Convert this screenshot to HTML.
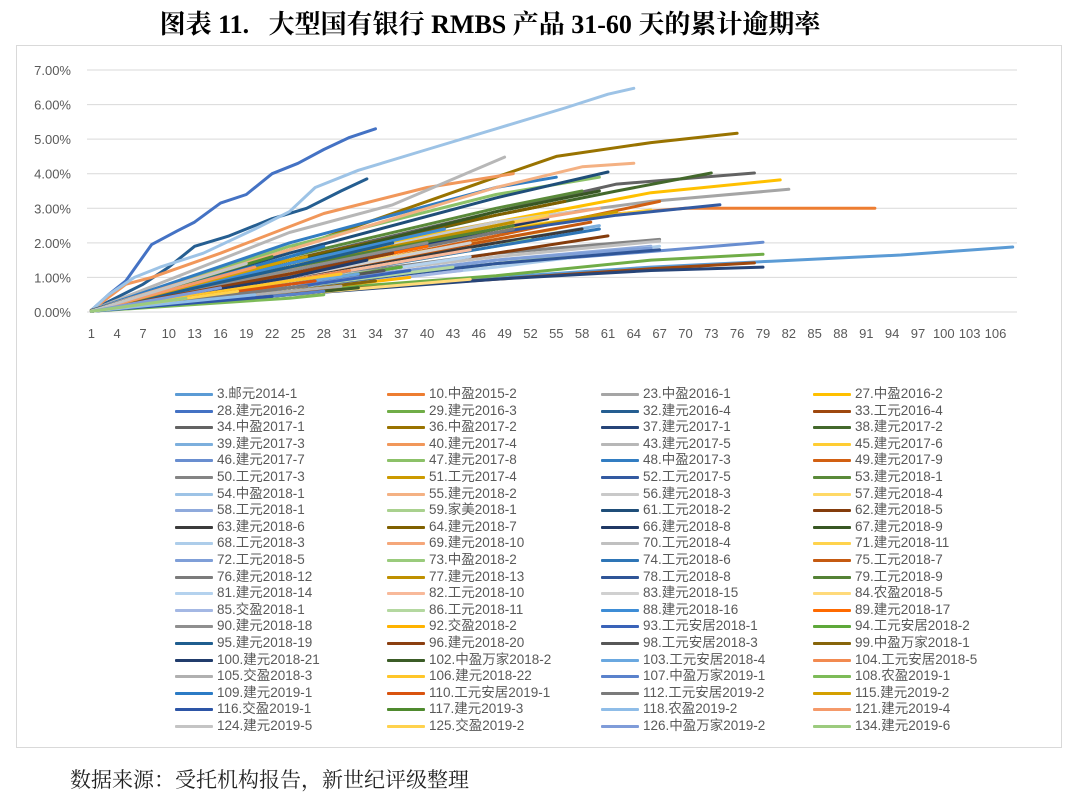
<!DOCTYPE html>
<html><head><meta charset="utf-8">
<style>
body{margin:0;width:1080px;height:803px;background:#fff;position:relative;overflow:hidden;font-family:"Liberation Sans","Noto Sans CJK SC",sans-serif;}
#title{position:absolute;left:0;width:980px;top:4px;text-align:center;font-family:"Liberation Serif","Noto Serif CJK SC",serif;font-weight:bold;font-size:26px;color:#000;}
#frame{position:absolute;left:16px;top:45px;width:1046px;height:703px;border:1px solid #d9d9d9;box-sizing:border-box;}
#source{position:absolute;left:70px;top:764px;font-size:21px;color:#222;font-family:"Liberation Serif","Noto Serif CJK SC",serif;}
.leg{position:absolute;font-size:13.5px;color:#595959;white-space:nowrap;line-height:16px;}
.leg i{position:absolute;left:-42px;top:7px;width:38px;height:3px;border-radius:1px;}
</style></head><body>
<div id="title">图表 11.&nbsp;&nbsp; 大型国有银行 RMBS 产品 31-60 天的累计逾期率</div>
<div id="frame"></div>
<svg id="chart" width="1080" height="803" style="position:absolute;left:0;top:0"></svg>
<div id="legend"></div>
<div id="source">数据来源：受托机构报告，新世纪评级整理</div>
<script>
const yTicks=[0,1,2,3,4,5,6,7];
const yTickLabels=["0.00%","1.00%","2.00%","3.00%","4.00%","5.00%","6.00%","7.00%"];
const nCategories=108;
const seriesNames=["3.邮元2014-1","10.中盈2015-2","23.中盈2016-1","27.中盈2016-2","28.建元2016-2","29.建元2016-3","32.建元2016-4","33.工元2016-4","34.中盈2017-1","36.中盈2017-2","37.建元2017-1","38.建元2017-2","39.建元2017-3","40.建元2017-4","43.建元2017-5","45.建元2017-6","46.建元2017-7","47.建元2017-8","48.中盈2017-3","49.建元2017-9","50.工元2017-3","51.工元2017-4","52.工元2017-5","53.建元2018-1","54.中盈2018-1","55.建元2018-2","56.建元2018-3","57.建元2018-4","58.工元2018-1","59.家美2018-1","61.工元2018-2","62.建元2018-5","63.建元2018-6","64.建元2018-7","66.建元2018-8","67.建元2018-9","68.工元2018-3","69.建元2018-10","70.工元2018-4","71.建元2018-11","72.工元2018-5","73.中盈2018-2","74.工元2018-6","75.工元2018-7","76.建元2018-12","77.建元2018-13","78.工元2018-8","79.工元2018-9","81.建元2018-14","82.工元2018-10","83.建元2018-15","84.农盈2018-5","85.交盈2018-1","86.工元2018-11","88.建元2018-16","89.建元2018-17","90.建元2018-18","92.交盈2018-2","93.工元安居2018-1","94.工元安居2018-2","95.建元2018-19","96.建元2018-20","98.工元安居2018-3","99.中盈万家2018-1","100.建元2018-21","102.中盈万家2018-2","103.工元安居2018-4","104.工元安居2018-5","105.交盈2018-3","106.建元2018-22","107.中盈万家2019-1","108.农盈2019-1","109.建元2019-1","110.工元安居2019-1","112.工元安居2019-2","115.建元2019-2","116.交盈2019-1","117.建元2019-3","118.农盈2019-2","121.建元2019-4","124.建元2019-5","125.交盈2019-2","126.中盈万家2019-2","134.建元2019-6"];
const seriesPoints=[
[[1,0.02],[24,0.55],[48,1.0],[66,1.3],[80,1.47],[95,1.65],[108,1.88]],
[[1,0.05],[24,1.3],[48,2.3],[60,2.8],[70,3.0],[92,3.0]],
[[1,0.05],[24,1.5],[48,2.6],[66,3.2],[82,3.55]],
[[1,0.05],[24,1.4],[48,2.6],[66,3.45],[81,3.82]],
[[1,0.05],[3,0.5],[5,0.9],[8,1.95],[11,2.35],[13,2.6],[16,3.15],[19,3.4],[22,4.0],[25,4.3],[28,4.7],[31,5.05],[34,5.3]],
[[1,0.03],[24,0.6],[48,1.05],[66,1.5],[79,1.67]],
[[1,0.05],[7,0.8],[10,1.3],[13,1.9],[17,2.2],[22,2.7],[26,3.0],[30,3.5],[33,3.85]],
[[1,0.02],[24,0.55],[48,0.95],[66,1.25],[78,1.42]],
[[1,0.05],[24,1.5],[48,2.9],[62,3.7],[78,4.02]],
[[1,0.05],[24,1.8],[48,3.9],[55,4.5],[66,4.9],[76,5.17]],
[[1,0.02],[24,0.5],[48,0.95],[66,1.2],[79,1.3]],
[[1,0.05],[24,1.4],[48,2.8],[62,3.5],[73,4.02]],
[[1,0.05],[24,1.0],[48,2.0],[60,2.5]],
[[1,0.05],[5,0.8],[8,1.0],[16,1.7],[28,2.85],[40,3.6],[50,4.0]],
[[1,0.05],[24,2.3],[36,3.1],[49,4.48]],
[[1,0.03],[24,1.2],[48,2.4],[66,2.95]],
[[1,0.03],[24,0.8],[48,1.4],[66,1.75],[79,2.02]],
[[1,0.05],[24,1.9],[48,3.4],[60,3.9]],
[[1,0.05],[24,2.0],[48,3.6],[55,3.9]],
[[1,0.03],[24,1.0],[48,2.2],[67,3.2]],
[[1,0.03],[24,0.9],[48,1.7],[67,2.1]],
[[1,0.03],[24,1.2],[48,2.3],[62,2.9]],
[[1,0.03],[24,1.2],[48,2.3],[62,2.8],[74,3.1]],
[[1,0.03],[24,1.6],[48,3.0],[58,3.5]],
[[1,0.05],[3,0.5],[6,1.0],[9,1.3],[14,1.7],[20,2.4],[24,2.9],[27,3.6],[32,4.1],[40,4.7],[48,5.3],[56,5.9],[61,6.3],[64,6.47]],
[[1,0.05],[24,1.8],[48,3.6],[58,4.2],[64,4.3]],
[[1,0.03],[24,1.3],[48,2.6],[57,2.9]],
[[1,0.03],[24,1.1],[48,2.1],[55,2.4]],
[[1,0.02],[24,0.8],[48,1.5],[66,1.9]],
[[1,0.02],[24,0.7],[48,1.4],[60,1.7]],
[[1,0.05],[24,1.7],[48,3.3],[61,4.05]],
[[1,0.02],[24,0.8],[48,1.7],[61,2.2]],
[[1,0.02],[24,1.0],[48,2.0],[58,2.4]],
[[1,0.03],[24,1.5],[48,2.8],[56,3.2]],
[[1,0.02],[24,1.2],[48,2.4],[54,2.7]],
[[1,0.03],[24,1.4],[48,2.9],[60,3.5]],
[[1,0.02],[24,0.7],[48,1.3],[67,1.9]],
[[1,0.03],[24,1.3],[48,2.5],[60,3.0]],
[[1,0.02],[24,0.9],[48,1.6],[67,2.05]],
[[1,0.03],[24,1.2],[48,2.5],[54,2.8]],
[[1,0.02],[24,0.8],[48,1.5],[66,1.85]],
[[1,0.02],[24,0.9],[48,1.9],[52,2.1]],
[[1,0.02],[24,0.9],[48,1.9],[60,2.4]],
[[1,0.02],[24,1.0],[48,2.1],[59,2.6]],
[[1,0.03],[24,1.1],[48,2.3],[50,2.4]],
[[1,0.03],[24,1.3],[48,2.5],[50,2.6]],
[[1,0.02],[24,0.7],[48,1.4],[67,1.8]],
[[1,0.03],[24,1.3],[48,2.4],[50,2.5]],
[[1,0.02],[24,0.8],[45,1.6]],
[[1,0.02],[24,0.9],[45,1.8]],
[[1,0.02],[24,1.0],[45,2.0]],
[[1,0.02],[24,0.5],[45,0.95]],
[[1,0.02],[24,0.6],[44,1.2]],
[[1,0.02],[24,0.7],[43,1.3]],
[[1,0.03],[24,1.4],[42,2.4]],
[[1,0.03],[24,1.1],[40,1.9]],
[[1,0.03],[24,1.2],[40,2.0]],
[[1,0.02],[24,0.6],[38,1.0]],
[[1,0.02],[24,0.7],[38,1.2]],
[[1,0.02],[24,0.8],[37,1.3]],
[[1,0.03],[24,1.3],[36,2.0]],
[[1,0.03],[24,1.1],[36,1.7]],
[[1,0.02],[24,0.8],[35,1.2]],
[[1,0.02],[24,0.6],[34,0.9]],
[[1,0.02],[24,1.0],[33,1.5]],
[[1,0.02],[24,0.5],[32,0.7]],
[[1,0.02],[24,0.8],[32,1.1]],
[[1,0.02],[24,0.9],[31,1.2]],
[[1,0.02],[24,0.6],[30,0.75]],
[[1,0.02],[24,0.9],[30,1.1]],
[[1,0.02],[24,0.5],[28,0.6]],
[[1,0.02],[24,0.4],[28,0.5]],
[[1,0.03],[24,1.6],[28,1.9]],
[[1,0.02],[24,0.8],[27,0.9]],
[[1,0.02],[24,0.7],[26,0.75]],
[[1,0.03],[24,1.5],[26,1.6]],
[[1,0.02],[22,0.45]],
[[1,0.03],[22,1.6]],
[[1,0.02],[20,0.5]],
[[1,0.03],[20,1.3]],
[[1,0.03],[19,1.4]],
[[1,0.02],[18,0.6]],
[[1,0.02],[16,0.7]],
[[1,0.02],[12,0.4]]
];
const seriesColors=["#5B9BD5","#ED7D31","#A5A5A5","#FFC000","#4472C4","#70AD47","#255E91","#9E480E","#636363","#997300","#264478","#43682B","#7CAFDD","#F1975A","#B7B7B7","#FFCD33","#698ED0","#8CC168","#327DC2","#D26012","#848484","#CC9A00","#335AA1","#5A8A39","#9DC3E6","#F4B183","#C9C9C9","#FFD966","#8FAADC","#A9D18E","#1F4E79","#843C0C","#3B3B3B","#7F6000","#203864","#385723","#ADCDEA","#F5A77A","#C0C0C0","#FFD34D","#7F9FD8","#9ACB7C","#2E75B6","#C55A11","#7B7B7B","#BF9000","#2F5597","#548235","#B4D2EE","#F8B99A","#D0D0D0","#FFDA7A","#A4B8E4","#B4D8A0","#3E8DD6","#FF6A00","#8F8F8F","#FFB300","#3A63B8","#5EA83A","#1F5E8F","#8B3F10","#575757","#87650A","#213C6C","#3B5C26","#6AA8E0","#F28A50","#B0B0B0","#FFC629","#5A82CC","#7DBB58","#2B7BC5","#D9530E","#7A7A7A","#D4A000","#2D55A6","#4F8A2E","#8FBDE8","#F59A6A","#C4C4C4","#FFD24D","#7F9CD9","#9CCB7E"];

const svg=document.getElementById('chart');const NS="http://www.w3.org/2000/svg";
const X0=87,X1=1017,Y0=312,Y7=70;
const band=(X1-X0)/nCategories;
function xPos(p){return X0+(p-0.5)*band;}
function yPos(v){return Y0-(v/7)*(Y0-Y7);}
yTicks.forEach((t,i)=>{
 const l=document.createElementNS(NS,'line');
 
 
 l.setAttribute('x1',X0);l.setAttribute('x2',X1);l.setAttribute('y1',yPos(t));l.setAttribute('y2',yPos(t));
 l.setAttribute('stroke','#d9d9d9');l.setAttribute('stroke-width','1');svg.appendChild(l);
 const tx=document.createElementNS(NS,'text');
 
 
 tx.setAttribute('x',71);tx.setAttribute('y',yPos(t)+5);tx.setAttribute('text-anchor','end');
 tx.setAttribute('font-size','13');tx.setAttribute('fill','#595959');tx.setAttribute('font-family','Liberation Sans, sans-serif');
 tx.textContent=yTickLabels[i];svg.appendChild(tx);
});
for(let p=1;p<=nCategories;p+=3){
 const tx=document.createElementNS(NS,'text');
 
 
 tx.setAttribute('x',xPos(p));tx.setAttribute('y',338);tx.setAttribute('text-anchor','middle');
 tx.setAttribute('font-size','13');tx.setAttribute('fill','#595959');tx.setAttribute('font-family','Liberation Sans, sans-serif');
 tx.textContent=String(p);svg.appendChild(tx);
}
seriesPoints.forEach((pts,i)=>{
 const pl=document.createElementNS(NS,'polyline');
 
 
 pl.setAttribute('points',pts.map(p=>xPos(p[0]).toFixed(1)+','+yPos(p[1]).toFixed(1)).join(' '));
 pl.setAttribute('fill','none');pl.setAttribute('stroke',seriesColors[i]);pl.setAttribute('stroke-width','3');
 pl.setAttribute('stroke-linejoin','round');pl.setAttribute('stroke-linecap','round');
 svg.appendChild(pl);
});
const lg=document.getElementById('legend');
const colX=[217,429,643,855];
seriesNames.forEach((n,i)=>{
 const d=document.createElement('div');
 
 
 d.className='leg';
 d.style.left=colX[i%4]+'px';
 d.style.top=(386+Math.floor(i/4)*16.6)+'px';
 const sw=document.createElement('i');
 
 
 sw.style.background=seriesColors[i];
 d.appendChild(sw);
 d.appendChild(document.createTextNode(n));
 lg.appendChild(d);
});
</script>
</body></html>
